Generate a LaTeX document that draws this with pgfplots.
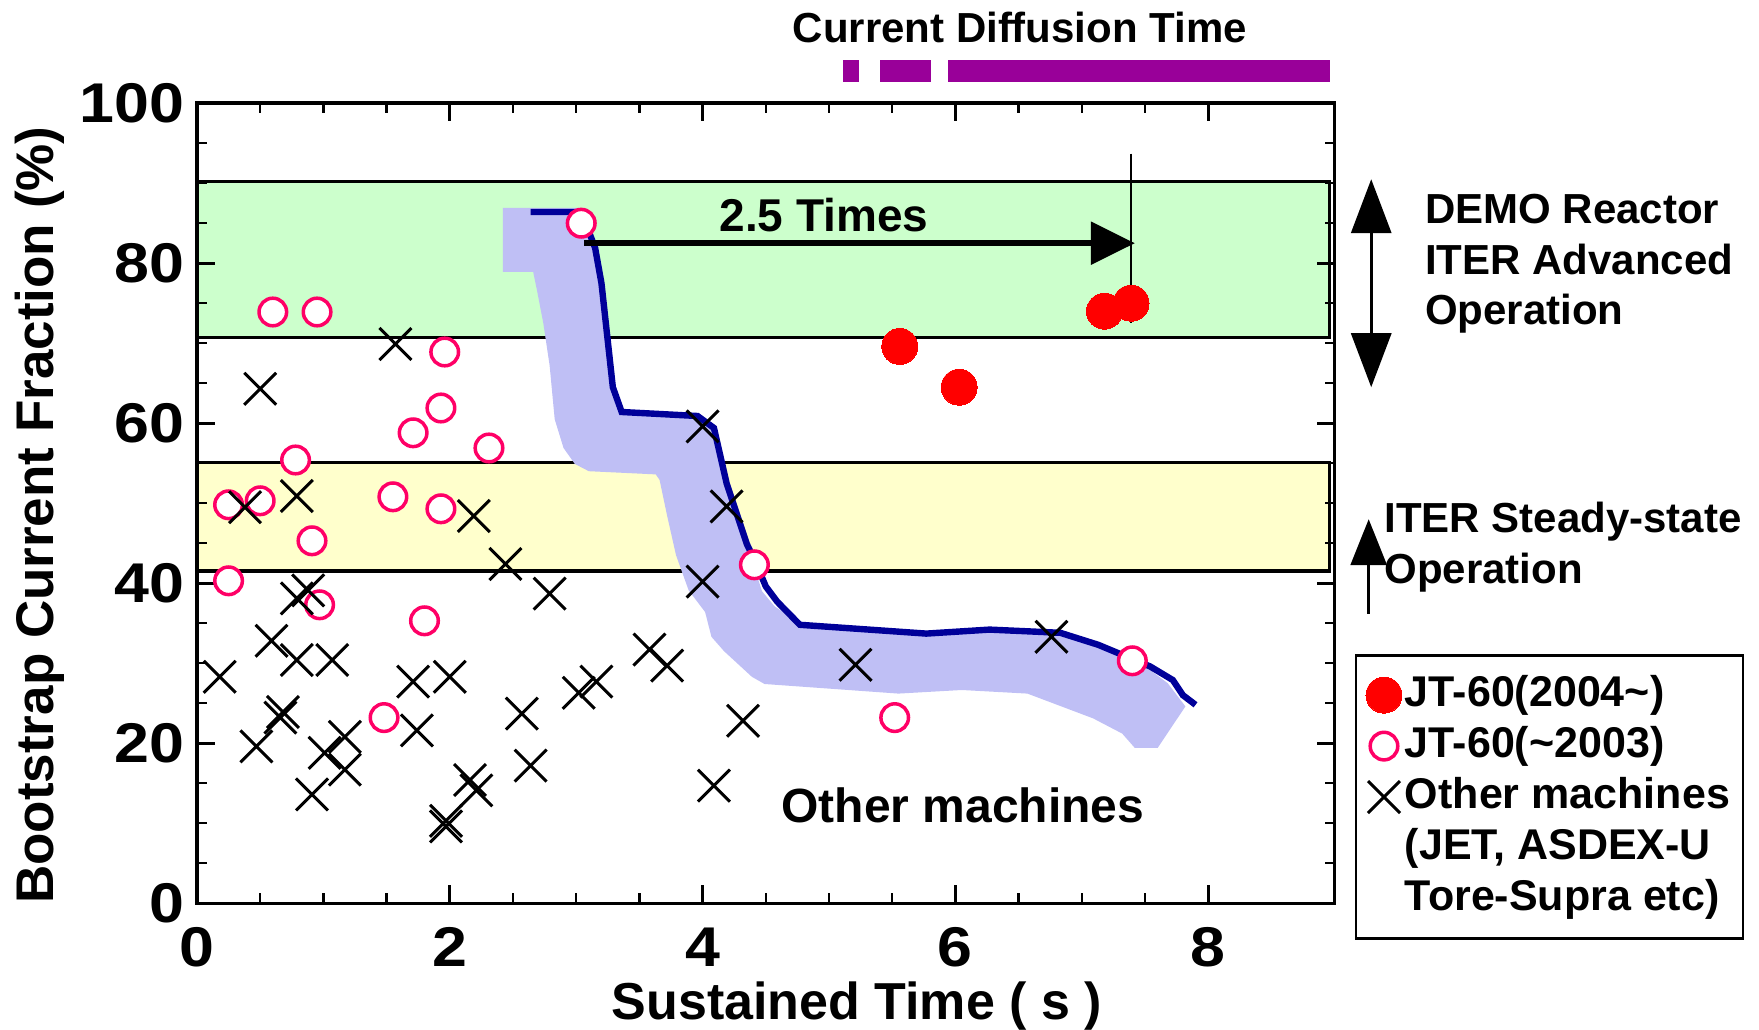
\documentclass[border=0pt]{standalone}
\usepackage{fontspec}
\setmainfont{Liberation Sans}
\newfontfamily\tickfont[FakeStretch=1.12]{Liberation Sans}
\usepackage{pgfplots}
\pgfplotsset{compat=1.18}
\usetikzlibrary{arrows.meta}
\definecolor{bandgreen}{HTML}{CCFFCC}
\definecolor{bandyellow}{HTML}{FFFFCC}
\definecolor{lav}{HTML}{BFBFF5}
\definecolor{navy}{HTML}{000099}
\definecolor{purp}{HTML}{990099}
\definecolor{pinkc}{HTML}{FF0066}
\begin{document}
\begin{tikzpicture}
\begin{axis}[
  scale only axis, width=568.8pt, height=400pt,
  xmin=0, xmax=9, ymin=0, ymax=100,
  clip=false, axis on top,
  axis line style={line width=1.7pt},
  xtick={0,2,4,6,8}, ytick={0,20,40,60,80,100},
  minor x tick num=3, minor y tick num=3,
  tick align=inside, tick pos=both,
  major tick length=9pt, minor tick length=5pt,
  major tick style={line width=1.4pt, black},
  minor tick style={line width=1.2pt, black},
  /pgf/number format/assume math mode=true,
  ticklabel style={font=\fontsize{28}{28}\selectfont\tickfont\bfseries},
  xticklabel style={anchor=center, yshift=-22pt},
  yticklabel style={anchor=east, inner sep=0pt, xshift=-6pt},
  xlabel={Sustained Time ( s )},
  xlabel style={font=\fontsize{26}{26}\selectfont\bfseries, at={(axis description cs:0.58,-0.128)}, anchor=center},
  ylabel={Bootstrap Current Fraction (\%)},
  ylabel style={font=\fontsize{26.5}{26.5}\selectfont\bfseries, at={(axis description cs:-0.138,0.485)}, anchor=center},
  legend style={at={(axis cs:9.16,31.1)}, anchor=north west, draw=black, line width=1.2pt, fill=white,
    font=\fontsize{21.5}{25}\selectfont\bfseries, inner xsep=5pt, inner ysep=7pt, row sep=0pt,
    nodes={inner sep=1.5pt, text height=17pt, text depth=5.5pt}},
  legend cell align=left,
]
% bands
\addplot[fill=bandgreen, draw=black, line width=1.7pt, forget plot] coordinates {(0,70.7) (8.96,70.7) (8.96,90.2) (0,90.2)} -- cycle;
\addplot[fill=bandyellow, draw=black, line width=1.7pt, forget plot] coordinates {(0,41.5) (8.96,41.5) (8.96,55.1) (0,55.1)} -- cycle;
% shaded trend band
\addplot[fill=lav, draw=none, forget plot] coordinates {
(2.42,86.9) (2.42,78.9) (2.66,78.9) (2.69,76.6) (2.74,72.5) (2.79,67.2) (2.83,60.5) (2.90,56.9) (2.99,54.9) (3.10,54.0) (3.63,53.6) (3.66,52.9) (3.72,48.4) (3.79,43.5) (3.89,39.1) (4.02,36.4) (4.07,33.3) (4.17,31.5) (4.39,28.3) (4.49,27.4) (5.55,26.2) (6.05,26.65) (6.57,26.2) (7.09,23.1) (7.32,21.2) (7.42,19.4) (7.60,19.4) (7.82,24.6) (7.68,27.5) (7.52,29.4) (7.13,31.9) (6.87,33.5) (6.27,34.4) (5.77,34.0) (4.77,35.0) (4.57,37.1) (4.47,39.0) (4.35,44.9) (4.19,52.5) (4.07,59.4) (3.96,61.2) (3.35,61.6) (3.27,64.5) (3.19,77.5) (3.12,82.8) (3.04,86.9)} -- cycle;
% trend line
\addplot[navy, line width=3.2pt, forget plot] coordinates {
(2.64,86.4) (3.04,86.4) (3.15,81.9) (3.20,77.5) (3.29,64.5) (3.36,61.4) (3.96,60.9) (4.09,59.4) (4.19,52.5) (4.35,44.9) (4.42,42.6) (4.50,39.6) (4.59,37.7) (4.77,34.8) (5.77,33.7) (6.27,34.2) (6.83,33.8) (6.93,33.3) (7.13,32.3) (7.54,29.6) (7.72,27.9) (7.80,26.0) (7.90,24.8)};
% 2.5 times arrow
\addplot[black, line width=1.1pt, forget plot] coordinates {(7.39,93.7) (7.39,72.5)};
\addplot[black, line width=2.8pt, -{Triangle[length=22pt,width=21pt]}, forget plot] coordinates {(3.06,82.5) (7.42,82.5)};
% current diffusion time bars
\addplot[fill=purp, draw=none, forget plot] coordinates {(5.11,102.6) (5.24,102.6) (5.24,105.4) (5.11,105.4)} -- cycle;
\addplot[fill=purp, draw=none, forget plot] coordinates {(5.40,102.6) (5.81,102.6) (5.81,105.4) (5.40,105.4)} -- cycle;
\addplot[fill=purp, draw=none, forget plot] coordinates {(5.94,102.6) (8.96,102.6) (8.96,105.4) (5.94,105.4)} -- cycle;
% data
\addplot[only marks, mark=*, mark size=9pt, mark options={fill=red, draw=red, line width=0pt}] coordinates {
(5.56,69.6) (6.03,64.5) (7.18,74.0) (7.39,75.0)};
\addlegendentry{JT-60(2004\textasciitilde)}
\addplot[only marks, mark=*, mark size=6.9pt, mark options={fill=white, draw=pinkc, line width=1.75pt}] coordinates {
(3.04,85.0) (0.60,73.9) (0.95,73.9) (1.96,68.9) (1.93,61.9) (1.71,58.8) (0.78,55.4) (2.31,56.9) (0.25,49.8) (0.50,50.3) (1.55,50.8) (1.93,49.3) (0.91,45.3) (0.25,40.3) (0.97,37.3) (4.41,42.3) (1.80,35.3) (1.48,23.2) (5.52,23.2) (7.40,30.3)};
\addlegendentry{JT-60(\textasciitilde2003)}
\addplot[only marks, mark=x, mark size=11.3pt, mark options={draw=black, line width=1.5pt}] coordinates {
(1.57,69.9) (0.50,64.3) (4.00,59.6) (0.38,49.5) (0.79,50.9) (2.19,48.4) (4.19,49.6) (2.44,42.4) (2.79,38.7) (4.00,40.2) (0.88,39.1) (0.79,38.1) (0.59,32.8) (0.79,30.4) (1.07,30.4) (0.18,28.3) (1.71,27.7) (2.00,28.3) (3.58,31.7) (3.72,29.7) (3.02,26.3) (3.16,27.7) (0.68,23.9) (0.66,23.2) (2.57,23.7) (4.32,22.8) (0.47,19.6) (1.01,18.8) (1.17,20.8) (1.17,16.7) (1.74,21.6) (0.91,13.6) (2.16,15.4) (2.21,14.1) (2.64,17.2) (1.97,10.3) (1.97,9.6) (4.09,14.7) (5.21,29.8) (6.76,33.3)};
\addlegendentry{Other machines}
\addlegendimage{empty legend}
\addlegendentry{(JET, ASDEX-U}
\addlegendimage{empty legend}
\addlegendentry{Tore-Supra etc)}
% annotations
\node[font=\fontsize{23}{23}\selectfont\bfseries, anchor=base] at (axis cs:4.96,83.9) {2.5 Times};
\node[font=\fontsize{24}{24}\selectfont\bfseries, anchor=base] at (axis cs:6.06,10.05) {Other machines};
\node[font=\fontsize{21}{21}\selectfont\bfseries, anchor=base] at (axis cs:6.51,107.6) {Current Diffusion Time};
\node[font=\fontsize{21}{21}\selectfont\bfseries, anchor=base west] at (axis cs:9.66,84.9) {DEMO Reactor};
\node[font=\fontsize{21}{21}\selectfont\bfseries, anchor=base west] at (axis cs:9.66,78.6) {ITER Advanced};
\node[font=\fontsize{21}{21}\selectfont\bfseries, anchor=base west] at (axis cs:9.66,72.3) {Operation};
\node[font=\fontsize{21}{21}\selectfont\bfseries, anchor=base west] at (axis cs:9.34,46.3) {ITER Steady-state};
\node[font=\fontsize{21}{21}\selectfont\bfseries, anchor=base west] at (axis cs:9.34,39.9) {Operation};
\draw[line width=1.6pt, {Triangle[width=20pt,length=27pt]}-{Triangle[width=20pt,length=27pt]}] (axis cs:9.29,90.5) -- (axis cs:9.29,64.5);
\draw[line width=1.6pt, -{Triangle[width=18pt,length=23pt]}] (axis cs:9.27,36.2) -- (axis cs:9.27,48.0);
\coordinate (BB1) at (axis cs:-1.5585,-15.73);
\coordinate (BB2) at (axis cs:12.358,112.9);
\end{axis}
\pgfresetboundingbox
\path[use as bounding box] (BB1) rectangle (BB2);
\end{tikzpicture}
\end{document}
